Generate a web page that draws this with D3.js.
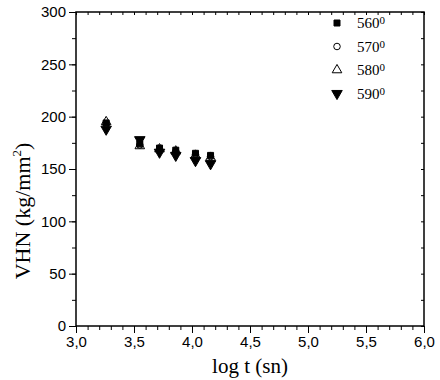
<!DOCTYPE html>
<html>
<head>
<meta charset="utf-8">
<script src="https://cdn.jsdelivr.net/npm/d3@7"></script>
<style>
  body { margin: 0; background: #fff; }
  .tick text { font-family: "Liberation Sans", Arial, sans-serif; font-size: 15px; fill: #000; }
  .axis path, .axis line { stroke: #000; }
</style>
</head>
<body>
<div id="chart-container"></div>
<script>
// data
const logT = [3.26, 3.55, 3.72, 3.86, 4.03, 4.16];
const temps = ["560", "570", "580", "590"];
const vhn560 = [194, 174, 170, 168, 165, 163];
const vhn570 = [193, 173, 169, 167, 164, 162];
const vhn580 = [195, 172, 169, 167, 163, 161];
const vhn590 = [188, 178, 166, 163, 158, 155];
const xTicks = [3.0, 3.5, 4.0, 4.5, 5.0, 5.5, 6.0];
const yTicks = [0, 50, 100, 150, 200, 250, 300];

document.addEventListener('DOMContentLoaded', function() {
  const margin = { top: 12, right: 16, bottom: 54, left: 76 };
  const width = 440 - margin.left - margin.right;
  const height = 380 - margin.top - margin.bottom;

  const svg = d3.select("#chart-container")
    .append("svg")
    .attr("width", 440)
    .attr("height", 380)
    .append("g")
    .attr("transform", `translate(${margin.left}, ${margin.top})`);

  const x = d3.scaleLinear().domain([3, 6]).range([0, width]);
  const y = d3.scaleLinear().domain([0, 300]).range([height, 0]);

  const fmt = d => d3.format(".1f")(d).replace(".", ",");

  // minor ticks
  svg.append("g").attr("class", "axis")
    .attr("transform", `translate(0, ${height})`)
    .call(d3.axisBottom(x).tickValues(d3.range(30, 61).map(d => d / 10)).tickSize(4).tickFormat(""))
    .select(".domain").remove();
  svg.append("g").attr("class", "axis")
    .call(d3.axisLeft(y).tickValues(d3.range(0, 301, 25)).tickSize(4).tickFormat(""))
    .select(".domain").remove();
  svg.append("g").attr("class", "axis")
    .call(d3.axisBottom(x).tickValues(d3.range(30, 61).map(d => d / 10)).tickSize(3).tickFormat(""))
    .select(".domain").remove();
  svg.append("g").attr("class", "axis")
    .attr("transform", `translate(${width}, 0)`)
    .call(d3.axisLeft(y).tickValues(d3.range(0, 301, 25)).tickSize(3).tickFormat(""))
    .select(".domain").remove();

  // major ticks
  svg.append("g").attr("class", "axis")
    .attr("transform", `translate(0, ${height})`)
    .call(d3.axisBottom(x).tickValues(xTicks).tickSize(7).tickPadding(3).tickFormat(fmt))
    .select(".domain").remove();
  svg.append("g").attr("class", "axis")
    .call(d3.axisLeft(y).tickValues(yTicks).tickSize(7).tickPadding(3).tickFormat(d3.format("d")))
    .select(".domain").remove();

  // frame
  svg.append("rect")
    .attr("width", width).attr("height", height)
    .attr("fill", "none").attr("stroke", "#000").attr("stroke-width", 1.5);

  // axis titles
  svg.append("text")
    .attr("x", width / 2).attr("y", height + 47)
    .attr("text-anchor", "middle")
    .style("font-family", "'Liberation Serif', 'Times New Roman', serif")
    .style("font-size", "21px")
    .text("log t (sn)");

  const yl = svg.append("text")
    .attr("transform", `translate(${-46}, ${height / 2 + 42}) rotate(-90)`)
    .attr("text-anchor", "middle")
    .style("font-family", "'Liberation Serif', 'Times New Roman', serif")
    .style("font-size", "22px");
  yl.append("tspan").text("VHN (kg/mm");
  yl.append("tspan").attr("dy", -9).style("font-size", "13px").text("2");
  yl.append("tspan").attr("dy", 9).text(")");

  // symbols
  const series = [
    { name: temps[0], values: vhn560, type: d3.symbolSquare, size: 36, fill: "#000" },
    { name: temps[1], values: vhn570, type: d3.symbolCircle, size: 34, fill: "none" },
    { name: temps[2], values: vhn580, type: d3.symbolTriangle, size: 40, fill: "none" },
    { name: temps[3], values: vhn590, type: d3.symbolTriangle, size: 48, fill: "#000", flip: true }
  ];

  series.forEach(s => {
    const sym = d3.symbol().type(s.type).size(s.size);
    svg.selectAll(null)
      .data(logT.map((t, i) => ({ t: t, v: s.values[i] })))
      .enter()
      .append("path")
      .attr("d", sym)
      .attr("transform", d => `translate(${x(d.t)}, ${y(d.v)})` + (s.flip ? " rotate(180)" : ""))
      .attr("fill", s.fill)
      .attr("stroke", "#000")
      .attr("stroke-width", 1);
  });

  // legend
  const leg = svg.append("g").attr("transform", `translate(${261}, ${11})`);
  series.forEach((s, i) => {
    const g = leg.append("g").attr("transform", `translate(0, ${i * 23.5})`);
    g.append("path")
      .attr("d", d3.symbol().type(s.type).size(s.size))
      .attr("transform", s.flip ? "rotate(180)" : null)
      .attr("fill", s.fill).attr("stroke", "#000");
    const t = g.append("text")
      .attr("x", 20).attr("y", 5)
      .style("font-family", "'Liberation Serif', 'Times New Roman', serif")
      .style("font-size", "15px");
    t.append("tspan").text(s.name);
    t.append("tspan").attr("dy", -4).style("font-size", "11px").text("0");
  });
});
</script>
</body>
</html>
